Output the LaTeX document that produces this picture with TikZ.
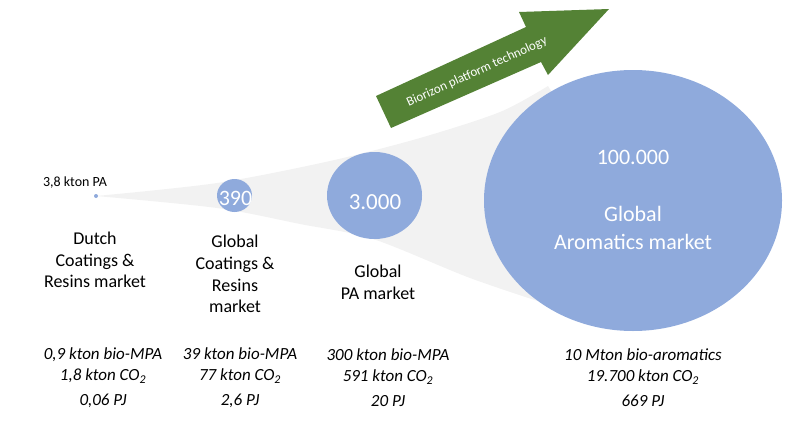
\documentclass[tikz,border=0pt]{standalone}
\usepackage{fontspec}
\setmainfont{Carlito}
\usetikzlibrary{shapes.geometric}
\definecolor{bubbleblue}{RGB}{143,170,220}
\definecolor{funnelgrey}{RGB}{242,242,242}
\definecolor{arrowgreen}{RGB}{84,130,53}

\begin{document}
\begin{tikzpicture}[x=1pt,y=-1pt,
  bubble/.style={ellipse,fill=bubbleblue,inner sep=0pt},
  bubbletext/.style={text=white,inner sep=0pt,font=\fontsize{22}{28}\selectfont},
  market/.style={align=center,inner sep=0pt,font=\fontsize{18}{21.8}\selectfont},
  figures/.style={align=center,inner sep=0pt,font=\fontsize{17}{21}\selectfont\itshape}]
\useasboundingbox (0,0) rectangle (800,423);

% funnel behind the bubbles
\fill[funnelgrey] plot[smooth] coordinates {(96,196) (217,183) (330,161) (420,138) (500,112) (548,86)}
  -- (620,200)
  -- plot[smooth] coordinates {(550,305) (470,278) (373,239) (300,224) (217,208) (96,196)} -- cycle;

% Biorizon arrow
\fill[arrowgreen] (376,96) -- (526,27) -- (519,12) -- (609,9) -- (548,75) -- (541,62) -- (391,128) -- cycle;
\node[rotate=24.5,text=white,font=\fontsize{13}{15}\selectfont] (biorizon) at (477,72) {Biorizon platform technology};

% markets
\node[bubble,minimum size=4pt] (dutch) at (96,196) {};
\node[bubble,minimum width=35pt,minimum height=33pt] (coatings) at (234.5,195.5) {};
\node[bubble,minimum width=95pt,minimum height=87pt] (pa) at (374.5,195.5) {};
\node[bubble,minimum width=298pt,minimum height=261pt] (aromatics) at (633,200.5) {};

\node[font=\fontsize{14}{16}\selectfont] (dutchsize) at (75,183) {3,8 kton PA};
\node[bubbletext] (coatingssize) at (235.5,198) {390};
\node[bubbletext,font=\fontsize{23}{28}\selectfont] (pasize) at (375,202) {3.000};
\node[bubbletext,align=center] (aromaticssize) at (633,200) {100.000\\[29pt]Global\\Aromatics market};

\node[market] (dutchname) at (95,260) {Dutch\\Coatings \&\\Resins market};
\node[market] (coatingsname) at (235,274) {Global\\Coatings \&\\Resins\\market};
\node[market] (paname) at (378,282) {Global\\PA market};

% figures per market
\node[figures] (dutchfig) at (103,378) {0,9 kton bio-MPA\\1,8 kton CO\textsubscript{2}\\[4pt]0,06 PJ};
\node[figures] (coatingsfig) at (240,378) {39 kton bio-MPA\\77 kton CO\textsubscript{2}\\[4pt]2,6 PJ};
\node[figures] (pafig) at (388,378) {300 kton bio-MPA\\591 kton CO\textsubscript{2}\\[4pt]20 PJ};
\node[figures] (aromaticsfig) at (643,378) {10 Mton bio-aromatics\\19.700 kton CO\textsubscript{2}\\[4pt]669 PJ};
\end{tikzpicture}
\end{document}
